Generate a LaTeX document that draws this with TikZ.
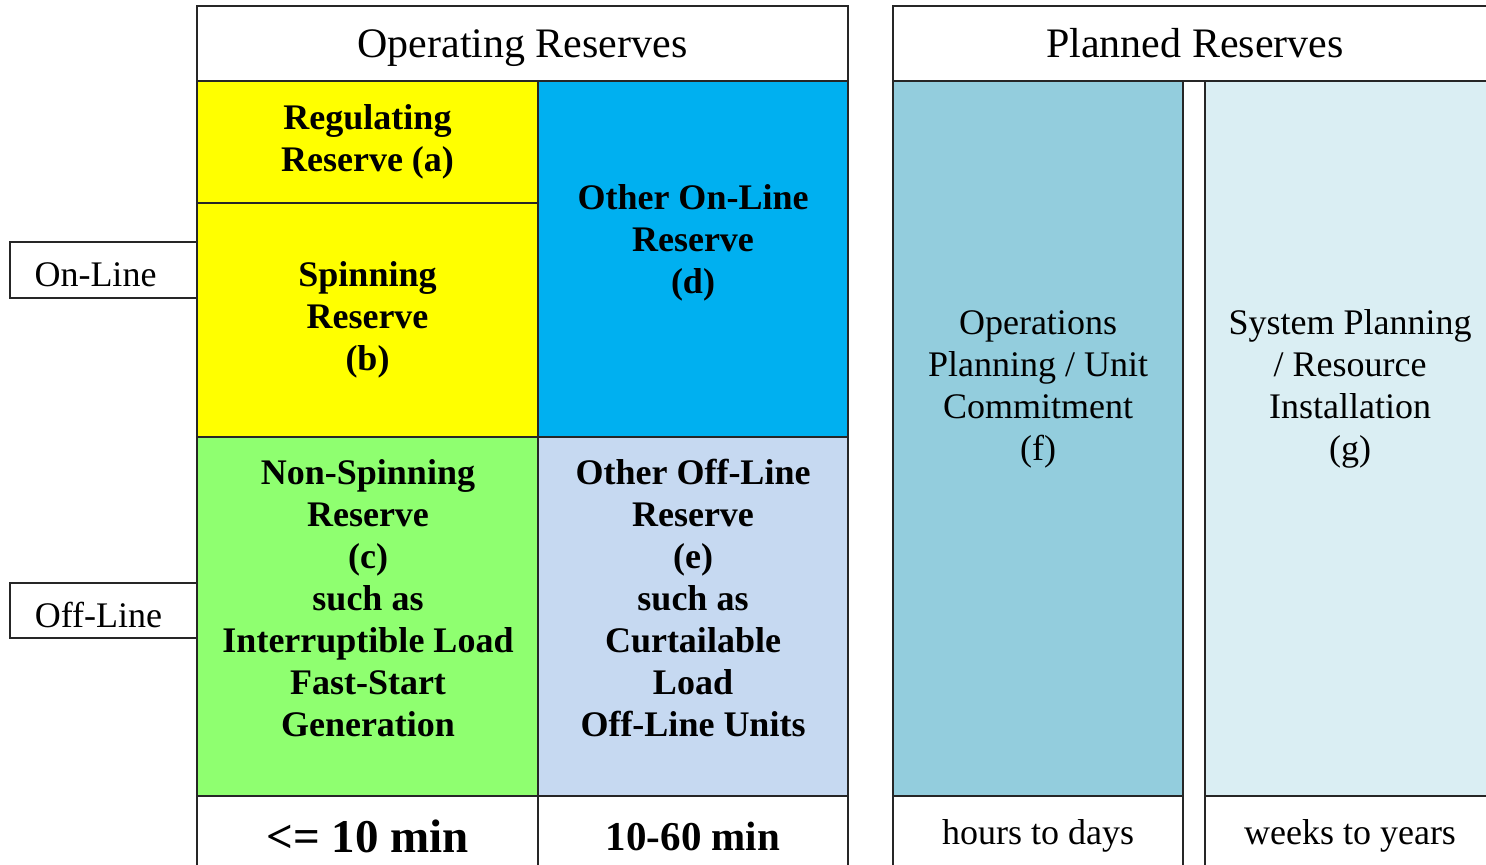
\documentclass[tikz,border=0pt]{standalone}
\usepackage{fontspec}
\setmainfont{Liberation Serif}
\usepackage{xcolor}
\usetikzlibrary{positioning}

\definecolor{regyellow}{HTML}{FFFF00}
\definecolor{onlblue}{HTML}{00B0F0}
\definecolor{nsgreen}{HTML}{8FFF70}
\definecolor{offlblue}{HTML}{C6D9F1}
\definecolor{opsteal}{HTML}{93CDDD}
\definecolor{syslight}{HTML}{DAEEF3}

\begin{document}
\begin{tikzpicture}[x=0.5pt, y=-0.5pt,
    cell/.style={draw=black!85, line width=0.75pt, anchor=north west, inner sep=0pt, outer sep=0pt, align=center},
    boldtxt/.style={font=\bfseries\fontsize{18}{21}\selectfont, align=center},
    plaintxt/.style={font=\fontsize{18}{21}\selectfont, align=center}
  ]
  \useasboundingbox (0,0) rectangle (1486,865);
  \clip (0,0) rectangle (1486,865);

  % operating reserves
  \node[cell, minimum width=325.5pt, minimum height=37.5pt, text depth=0pt, font=\fontsize{21}{24}\selectfont] (ophead) at (197,6) {Operating Reserves};
  \node[cell, fill=regyellow, minimum width=170.5pt, minimum height=61pt, boldtxt] (regres) at (197,81) {Regulating\\Reserve (a)};
  \node[cell, fill=regyellow, minimum width=170.5pt, minimum height=117pt, boldtxt] (spinres) at (197,203) {Spinning\\Reserve\\(b)};
  \node[cell, fill=onlblue, minimum width=155pt, minimum height=178pt] (onlres) at (538,81) {};
  \node[cell, fill=nsgreen, minimum width=170.5pt, minimum height=179.5pt] (nsres) at (197,437) {};
  \node[cell, fill=offlblue, minimum width=155pt, minimum height=179.5pt] (offlres) at (538,437) {};
  \node[cell, minimum width=170.5pt, minimum height=40pt, font=\bfseries\fontsize{23.5}{26}\selectfont] (tten) at (197,796) {<= 10 min};
  \node[cell, minimum width=155pt, minimum height=40pt, font=\bfseries\fontsize{20.5}{24}\selectfont] (tsixty) at (538,796) {10-60 min};

  \node[boldtxt] (onltxt) at (693,243) {Other On-Line\\Reserve\\(d)};
  \node[boldtxt] (nstxt) at (368,598) {Non-Spinning\\Reserve\\(c)\\such as\\Interruptible Load\\Fast-Start\\Generation};
  \node[boldtxt] (offltxt) at (693,598) {Other Off-Line\\Reserve\\(e)\\such as\\Curtailable\\Load\\Off-Line Units};

  % row labels
  \node[cell, minimum width=93.5pt, minimum height=28pt, text height=17pt, plaintxt] (online) at (10,242) {On-Line\hspace*{8pt}};
  \node[cell, minimum width=93.5pt, minimum height=27.5pt, text height=17pt, plaintxt] (offline) at (10,583) {Off-Line\hspace*{5pt}};

  % planned reserves
  \node[cell, minimum width=302pt, minimum height=37.5pt, font=\fontsize{21}{24}\selectfont] (plhead) at (893,6) {Planned Reserves};
  \node[cell, fill=opsteal, minimum width=145pt, minimum height=357.5pt] (opsplan) at (893,81) {};
  \node[cell, fill=syslight, minimum width=145pt, minimum height=357.5pt] (sysplan) at (1205,81) {};
  \node[cell, minimum width=145pt, minimum height=40pt, plaintxt] (thours) at (893,796) {hours to days};
  \node[cell, minimum width=145pt, minimum height=40pt, plaintxt] (tweeks) at (1205,796) {weeks to years};

  \node[plaintxt] (opstxt) at (1038,389) {Operations\\Planning / Unit\\Commitment\\(f)};
  \node[plaintxt] (systxt) at (1350,389) {System Planning\\/ Resource\\Installation\\(g)};
\end{tikzpicture}
\end{document}
